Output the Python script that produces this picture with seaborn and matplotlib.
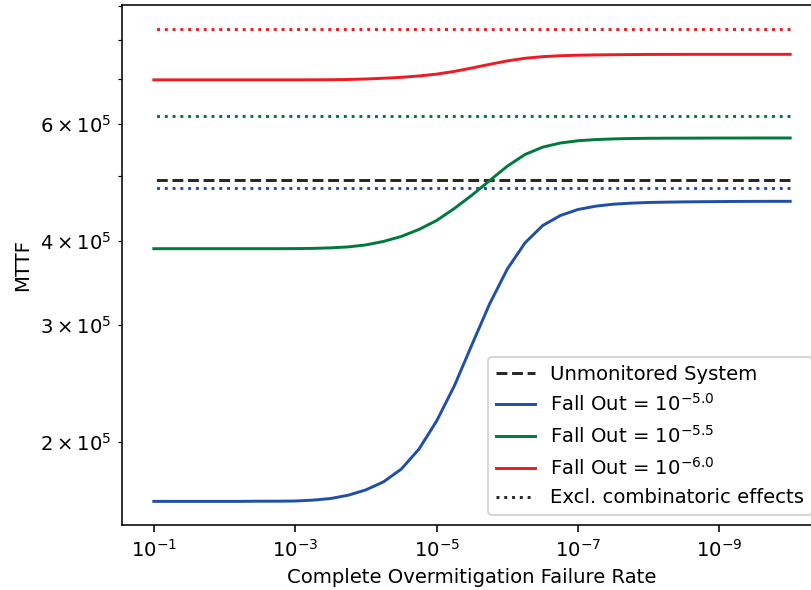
import numpy as np
import pandas as pd
import matplotlib
matplotlib.use("Agg")
import matplotlib.pyplot as plt
import seaborn as sns
from matplotlib.lines import Line2D
from matplotlib.ticker import NullLocator

# ---------------- data ----------------
rate_exponents = [-1.0, -1.25, -1.5, -1.75, -2.0, -2.25, -2.5, -2.75, -3.0,
                  -3.25, -3.5, -3.75, -4.0, -4.25, -4.5, -4.75, -5.0, -5.25,
                  -5.5, -5.75, -6.0, -6.25, -6.5, -6.75, -7.0, -7.25, -7.5,
                  -7.75, -8.0, -8.25, -8.5, -8.75, -9.0, -9.25, -9.5, -9.75,
                  -10.0]

mttf_fo_5_0 = [1.632e5, 1.632e5, 1.632e5, 1.632e5, 1.632e5, 1.632e5, 1.633e5,
               1.633e5, 1.634e5, 1.639e5, 1.648e5, 1.667e5, 1.698e5, 1.746e5,
               1.824e5, 1.954e5, 2.153e5, 2.429e5, 2.802e5, 3.224e5, 3.635e5,
               3.977e5, 4.222e5, 4.370e5, 4.462e5, 4.513e5, 4.544e5, 4.560e5,
               4.571e5, 4.576e5, 4.580e5, 4.583e5, 4.585e5, 4.587e5, 4.588e5,
               4.589e5, 4.589e5]

mttf_fo_5_5 = [3.898e5, 3.898e5, 3.898e5, 3.898e5, 3.898e5, 3.898e5, 3.898e5,
               3.898e5, 3.899e5, 3.902e5, 3.909e5, 3.922e5, 3.949e5, 3.997e5,
               4.066e5, 4.165e5, 4.296e5, 4.477e5, 4.688e5, 4.930e5, 5.180e5,
               5.393e5, 5.531e5, 5.610e5, 5.654e5, 5.677e5, 5.690e5, 5.698e5,
               5.702e5, 5.704e5, 5.705e5, 5.706e5, 5.707e5, 5.707e5, 5.708e5,
               5.708e5, 5.708e5]

mttf_fo_6_0 = [6.974e5, 6.974e5, 6.974e5, 6.974e5, 6.974e5, 6.974e5, 6.974e5,
               6.974e5, 6.974e5, 6.975e5, 6.977e5, 6.983e5, 6.995e5, 7.013e5,
               7.035e5, 7.068e5, 7.113e5, 7.180e5, 7.265e5, 7.357e5, 7.445e5,
               7.512e5, 7.554e5, 7.578e5, 7.592e5, 7.600e5, 7.605e5, 7.609e5,
               7.612e5, 7.613e5, 7.614e5, 7.615e5, 7.615e5, 7.615e5, 7.615e5,
               7.615e5, 7.615e5]

unmonitored_mttf = 4.94e5
excl_mttf = [4.80e5, 6.15e5, 8.32e5]   # Fall Out 10^-5.0, 10^-5.5, 10^-6.0

series_labels = [r"Fall Out = $10^{-5.0}$", r"Fall Out = $10^{-5.5}$",
                 r"Fall Out = $10^{-6.0}$"]
series_colors = ["#1f4fa8", "#007a3a", "#ed1c24"]
unmonitored_label = "Unmonitored System"
excl_label = "Excl. combinatoric effects"
xtick_exponents = [-1, -3, -5, -7, -9]
x_label = "Complete Overmitigation Failure Rate"
y_label = "MTTF"

# ---------------- build tables ----------------
rates = [10.0 ** e for e in rate_exponents]
series_values = [mttf_fo_5_0, mttf_fo_5_5, mttf_fo_6_0]
df = pd.DataFrame({
    "rate": rates * 3,
    "mttf": [v for s in series_values for v in s],
    "series": [lab for lab in series_labels for _ in rates],
})

# ---------------- plot ----------------
DPI = 141
fig = plt.figure(figsize=(811 / DPI, 590 / DPI), dpi=DPI)
ax = fig.add_axes([122 / 811, 1 - 525 / 590, 700 / 811, 520 / 590])

sns.lineplot(x=rates, y=[unmonitored_mttf] * len(rates), color="#262626",
             linestyle="--", linewidth=1.5, ax=ax)
for val, col in zip(excl_mttf, series_colors):
    sns.lineplot(x=rates, y=[val] * len(rates), color=col, linestyle=":",
                 linewidth=1.5, ax=ax)
sns.lineplot(data=df, x="rate", y="mttf", hue="series",
             hue_order=series_labels, palette=series_colors, linewidth=1.5,
             legend=False, ax=ax)

ax.set_xscale("log")
ax.set_yscale("log")
ax.set_xticks([10.0 ** e for e in xtick_exponents])
ax.xaxis.set_minor_locator(NullLocator())
ax.invert_xaxis()

ax.set_xlabel(x_label)
ax.set_ylabel(y_label)

handles = [Line2D([], [], color="#262626", linestyle="--", linewidth=1.5)]
handles += [Line2D([], [], color=c, linewidth=1.5) for c in series_colors]
handles += [Line2D([], [], color="#262626", linestyle=":", linewidth=1.5)]
labels = [unmonitored_label] + series_labels + [excl_label]
ax.legend(handles, labels, loc="lower right")

fig.savefig("out.png", dpi=DPI)
